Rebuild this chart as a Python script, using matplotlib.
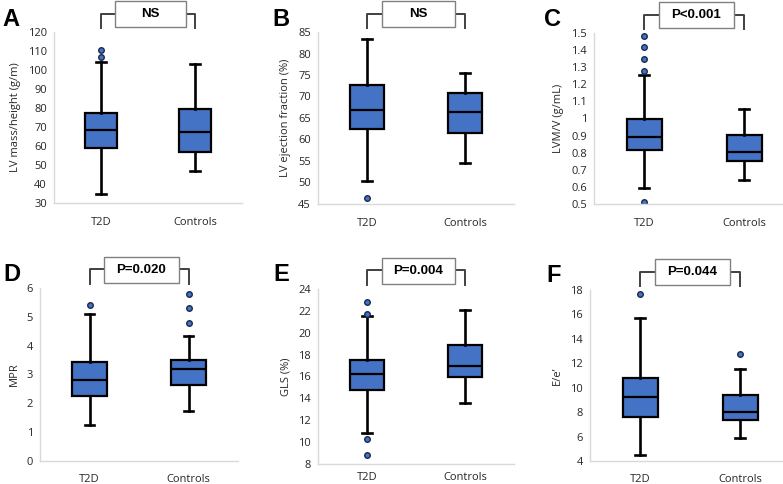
import matplotlib
matplotlib.use("Agg")
import matplotlib.pyplot as plt
from matplotlib.patches import Rectangle
from matplotlib.ticker import MultipleLocator, FormatStrFormatter

plt.rcParams['font.family'] = ['Open Sans', 'DejaVu Sans']

groups = ['T2D', 'Controls']
stat_keys = ['whislo', 'q1', 'med', 'q3', 'whishi']

# box stats per group: whisker low, Q1, median, Q3, whisker high
lvmass_t2d = [35.0, 59.2, 68.4, 77.5, 104.0]
lvmass_ctl = [46.6, 57.1, 67.5, 79.4, 103.4]
lvmass_t2d_out = [107.0, 110.4]
lvmass_ctl_out = []

lvef_t2d = [50.4, 62.5, 66.9, 72.6, 83.4]
lvef_ctl = [54.6, 61.6, 66.5, 70.7, 75.4]
lvef_t2d_out = [46.3]
lvef_ctl_out = []

lvmv_t2d = [0.592, 0.816, 0.889, 0.996, 1.256]
lvmv_ctl = [0.639, 0.750, 0.803, 0.906, 1.056]
lvmv_t2d_out = [0.51, 1.28, 1.35, 1.42, 1.48]
lvmv_ctl_out = []

mpr_t2d = [1.24, 2.24, 2.80, 3.43, 5.10]
mpr_ctl = [1.75, 2.62, 3.20, 3.50, 4.32]
mpr_t2d_out = [5.42]
mpr_ctl_out = [4.79, 5.31, 5.80]

gls_t2d = [10.8, 14.8, 16.2, 17.5, 21.5]
gls_ctl = [13.6, 16.0, 17.0, 18.9, 22.1]
gls_t2d_out = [8.85, 10.3, 21.7, 22.8]
gls_ctl_out = []

ee_t2d = [4.5, 7.6, 9.2, 10.8, 15.7]
ee_ctl = [5.9, 7.35, 8.0, 9.4, 11.5]
ee_t2d_out = [17.7]
ee_ctl_out = [12.8]

letters = ['A', 'B', 'C', 'D', 'E', 'F']
ylabels = ['LV mass/height (g/m)', 'LV ejection fraction (%)', 'LVM/V (g/mL)',
           'MPR', 'GLS (%)', "E/e\u2019"]
pvalues = ['NS', 'NS', 'P<0.001', 'P=0.020', 'P=0.004', 'P=0.044']
ylims = [(30, 120), (45, 85), (0.5, 1.5), (0, 6), (8, 24), (4, 18)]
ysteps = [10, 5, 0.1, 1, 2, 2]

panels = [
    (lvmass_t2d, lvmass_t2d_out, lvmass_ctl, lvmass_ctl_out),
    (lvef_t2d, lvef_t2d_out, lvef_ctl, lvef_ctl_out),
    (lvmv_t2d, lvmv_t2d_out, lvmv_ctl, lvmv_ctl_out),
    (mpr_t2d, mpr_t2d_out, mpr_ctl, mpr_ctl_out),
    (gls_t2d, gls_t2d_out, gls_ctl, gls_ctl_out),
    (ee_t2d, ee_t2d_out, ee_ctl, ee_ctl_out),
]

# axes rectangles in pixels: left, top, width, height
W, H = 783, 484
rects = [(54, 32, 188, 171), (318, 32, 196, 172), (594, 33, 200, 171),
         (40, 288, 198, 173), (318, 289, 196, 175), (590, 290, 200, 171)]
xpads = [10, 10, 10, 9, 5.5, 9]
letter_pos = [(2, 26), (272, 26), (544, 26), (3, 281), (273, 281), (546, 282)]

BLUE = '#4472C4'
GRAY = '#404040'

fig = plt.figure(figsize=(W / 100, H / 100), dpi=100)

for i, (t2d, t2d_out, ctl, ctl_out) in enumerate(panels):
    l, t, w, h = rects[i]
    ax = fig.add_axes([l / W, 1 - (t + h) / H, w / W, h / H])
    stats = []
    for vals, out, name in [(t2d, t2d_out, groups[0]), (ctl, ctl_out, groups[1])]:
        d = dict(zip(stat_keys, vals))
        d['fliers'] = out
        d['label'] = name
        stats.append(d)
    ax.bxp(stats, positions=[1, 2], widths=0.35, patch_artist=True,
           boxprops=dict(facecolor=BLUE, edgecolor='black', linewidth=1.6),
           medianprops=dict(color='black', linewidth=1.6),
           whiskerprops=dict(color='black', linewidth=1.9),
           capprops=dict(color='black', linewidth=1.9),
           capwidths=0.1,
           flierprops=dict(marker='o', markersize=4, markerfacecolor=BLUE,
                           markeredgecolor='#1a2a4a', markeredgewidth=1))
    ax.set_xlim(0.5, 2.5)
    ax.set_ylim(*ylims[i])
    ax.yaxis.set_major_locator(MultipleLocator(ysteps[i]))
    ax.yaxis.set_major_formatter(FormatStrFormatter('%g'))
    for s in ['top', 'right']:
        ax.spines[s].set_visible(False)
    for s in ['left', 'bottom']:
        ax.spines[s].set_color('#d9d9d9')
        ax.spines[s].set_linewidth(1)
    ax.tick_params(axis='both', length=0, labelsize=8, labelcolor='#262626')
    ax.tick_params(axis='y', pad=5)
    ax.tick_params(axis='x', pad=xpads[i])
    ax.set_ylabel(ylabels[i], fontsize=8, color='#262626', labelpad=5)

    # significance bracket above the plot
    tr = ax.get_xaxis_transform()
    ax.plot([1, 1, 2, 2], [1.025, 1.107, 1.107, 1.025], transform=tr,
            color=GRAY, linewidth=1.4, clip_on=False)
    ax.add_patch(Rectangle((1.15, 1.03), 0.75, 0.15, transform=tr,
                           facecolor='white', edgecolor='#808080',
                           linewidth=1, clip_on=False, zorder=3))
    ax.text(1.525, 1.105, pvalues[i], transform=tr, ha='center', va='center',
            fontsize=9.5, fontweight='bold', family=['Liberation Sans', 'DejaVu Sans'],
            zorder=4)

    lx, ly = letter_pos[i]
    fig.text(lx / W, 1 - ly / H, letters[i], fontsize=17, fontweight='bold',
             family=['Liberation Sans', 'DejaVu Sans'], va='baseline', ha='left')

fig.savefig('out.png', dpi=100)
